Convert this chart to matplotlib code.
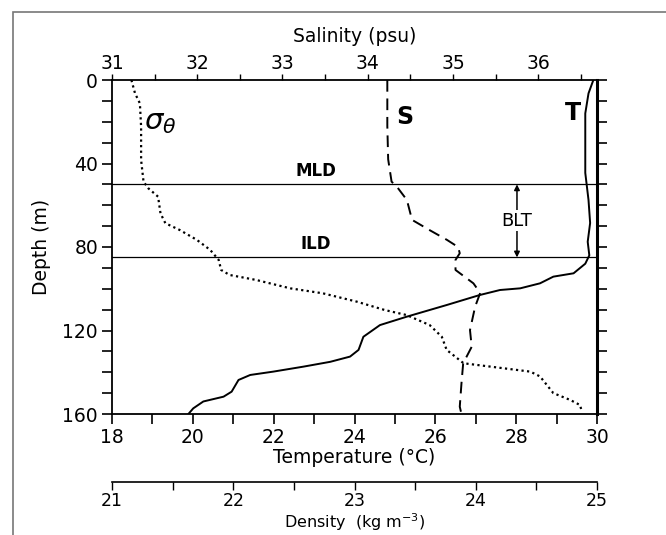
import matplotlib
matplotlib.use("Agg")
import matplotlib.pyplot as plt
from matplotlib.patches import Rectangle
from matplotlib.ticker import MultipleLocator

plt.rcParams['font.family'] = ['DejaVu Sans']

# temperature profile (degC vs depth m)
temp_depth = [0, 6.4, 16, 44.5, 57.5, 68.5, 77.5, 84, 88, 92.6, 94.2, 97.4, 99.8,
              100.6, 103, 107.8, 113.4, 117.4, 123, 129.3, 132.5, 135, 137.3,
              139.7, 141.3, 143.7, 149.3, 151.7, 154, 157.3, 160]
temp_vals = [29.91, 29.79, 29.71, 29.71, 29.79, 29.83, 29.77, 29.81, 29.71, 29.42,
             28.92, 28.59, 28.10, 27.60, 27.10, 26.28, 25.29, 24.63, 24.22, 24.10,
             23.89, 23.40, 22.74, 21.99, 21.42, 21.13, 20.96, 20.76, 20.26, 20.01,
             19.89]

# salinity profile (psu)
sal_depth = [0, 22, 38, 48.7, 51, 57.5, 67, 72, 76.6, 80, 83, 86.2, 91, 97.4, 102,
             108.6, 119.8, 127.8, 135.7, 145.3, 156.5, 160]
sal_vals = [34.23, 34.23, 34.24, 34.28, 34.34, 34.46, 34.52, 34.73, 34.93, 35.06,
            35.08, 35.03, 35.03, 35.24, 35.32, 35.26, 35.20, 35.22, 35.12, 35.10,
            35.08, 35.10]

# potential density profile (kg m-3)
dens_depth = [0, 6.4, 11.2, 22.4, 38.3, 48.7, 51.9, 55.9, 63.9, 68.6, 71.9, 76.6,
              81.4, 86.2, 91, 93.4, 95.8, 99.8, 102.2, 106.2, 110.2, 112.6, 117.4,
              123, 129.3, 135.7, 137.3, 139.7, 142, 150, 153.3, 155.7, 157.8]
dens_vals = [21.16, 21.19, 21.23, 21.24, 21.24, 21.26, 21.30, 21.38, 21.40, 21.44,
             21.56, 21.70, 21.81, 21.88, 21.90, 21.97, 22.19, 22.47, 22.74, 23.02,
             23.25, 23.43, 23.62, 23.72, 23.76, 23.90, 24.12, 24.45, 24.53, 24.64,
             24.78, 24.86, 24.87]

mld = 50
ild = 85

fig = plt.figure(figsize=(6.66, 5.35), dpi=100)
ax = fig.add_axes([112/666, 1-414/535, 485/666, 334/535])

fs = 13.5

# temperature
ax.plot(temp_vals, temp_depth, color='black', lw=1.4)
ax.set_xlim(18, 30)
ax.set_ylim(160, 0)
ax.xaxis.set_major_locator(MultipleLocator(2))
ax.xaxis.set_minor_locator(MultipleLocator(1))
ax.yaxis.set_major_locator(MultipleLocator(40))
ax.yaxis.set_minor_locator(MultipleLocator(10))
ax.tick_params(axis='both', which='both', direction='out', labelsize=fs, width=1.2)
ax.tick_params(axis='both', which='major', length=7, pad=3)
ax.tick_params(axis='both', which='minor', length=7)
ax.tick_params(axis='y', which='both', right=True)
ax.set_xlabel('Temperature (°C)', fontsize=fs, labelpad=1)
ax.set_ylabel('Depth (m)', fontsize=fs, labelpad=8)
for sp in ax.spines.values():
    sp.set_linewidth(1.3)
ax.spines['right'].set_linewidth(2.2)

ax.axhline(mld, color='black', lw=0.9)
ax.axhline(ild, color='black', lw=0.9)
ax.text(23.05, mld - 2.2, 'MLD', fontsize=12, fontweight='bold', ha='center', va='bottom')
ax.text(23.05, ild - 2.2, 'ILD', fontsize=12, fontweight='bold', ha='center', va='bottom')
ax.annotate('', xy=(28.02, mld), xytext=(28.02, ild),
            arrowprops=dict(arrowstyle='<|-|>', color='black', lw=1.1,
                            mutation_scale=8, shrinkA=0, shrinkB=0))
ax.text(28.02, (mld + ild) / 2, 'BLT', fontsize=13, ha='center', va='center',
        bbox=dict(facecolor='white', edgecolor='none', pad=1))
ax.text(25.25, 17.5, 'S', fontsize=17, fontweight='bold', ha='center', va='center')
ax.text(29.4, 16, 'T', fontsize=17, fontweight='bold', ha='center', va='center')
ax.text(19.2, 20, r'$\sigma_\theta$', fontsize=21, ha='center', va='center')

# salinity on top axis
ax_s = ax.twiny()
ax_s.plot(sal_vals, sal_depth, color='black', lw=1.4, dashes=(6, 3.5))
ax_s.set_xlim(31, 36.69)
ax_s.xaxis.set_major_locator(MultipleLocator(1))
ax_s.xaxis.set_minor_locator(MultipleLocator(0.5))
ax_s.tick_params(axis='x', which='both', direction='out', labelsize=fs, length=4,
                 width=1.0, pad=1)
ax_s.set_xlabel('Salinity (psu)', fontsize=fs, labelpad=9)
for sp in ax_s.spines.values():
    sp.set_visible(False)

# density on a detached bottom axis
ax_d = ax.twiny()
ax_d.plot(dens_vals, dens_depth, color='black', lw=1.6, linestyle=(0, (1, 1.5)))
ax_d.set_xlim(21, 25)
ax_d.xaxis.set_ticks_position('bottom')
ax_d.xaxis.set_label_position('bottom')
ax_d.spines['bottom'].set_position(('outward', 49))
for side in ['top', 'left', 'right']:
    ax_d.spines[side].set_visible(False)
ax_d.spines['bottom'].set_linewidth(1.2)
ax_d.xaxis.set_major_locator(MultipleLocator(1))
ax_d.xaxis.set_minor_locator(MultipleLocator(0.5))
ax_d.tick_params(axis='x', which='both', direction='out', labelsize=12.5, length=6,
                 width=1.0, pad=1)
ax_d.set_xlabel('Density  (kg m$^{-3}$)', fontsize=11.5, labelpad=1)

# outer frame
fig.patches.append(Rectangle((13/666, -0.05), 1.0, 1 - 12/535 + 0.05,
                             transform=fig.transFigure, fill=False,
                             edgecolor='#777777', lw=1.2))

fig.savefig('out.png', dpi=100)
